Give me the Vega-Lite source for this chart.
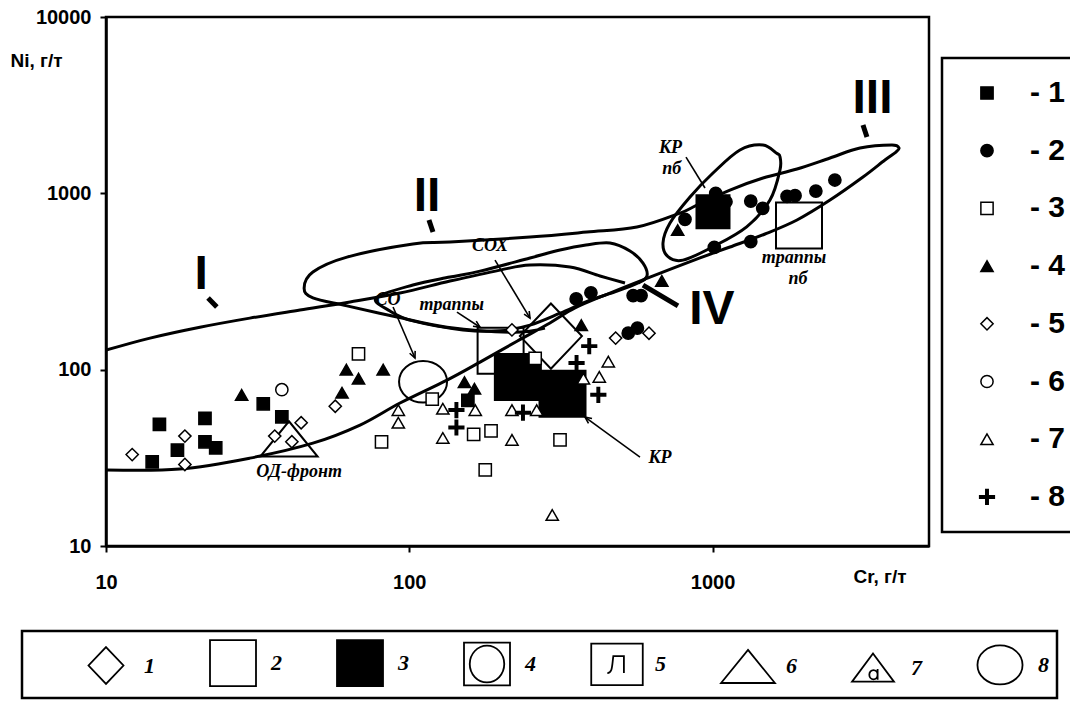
{
  "$schema": "https://vega.github.io/schema/vega-lite/v6.json",
  "width": 823,
  "height": 529,
  "autosize": {"type": "none"},
  "padding": {"left": 106, "top": 17, "right": 141, "bottom": 158},
  "background": "white",
  "config": {
    "view": {"stroke": "black", "strokeWidth": 2.5},
    "font": "Liberation Sans",
    "axis": {
      "grid": false,
      "domainColor": "black",
      "domainWidth": 2.5,
      "tickColor": "black",
      "tickWidth": 2,
      "tickSize": 6,
      "labelFont": "Liberation Sans",
      "labelFontWeight": "bold",
      "labelFontSize": 20,
      "labelColor": "black",
      "labelFlush": false,
      "labelOverlap": false,
      "titleFont": "Liberation Sans",
      "titleFontWeight": "bold",
      "titleFontSize": 19,
      "titleColor": "black"
    },
    "legend": {"strokeWidth": 2.5}
  },
  "datasets": {
    "pts": [
      {"series": "1", "Cr": 15, "Ni": 49}, {"series": "1", "Cr": 14.2, "Ni": 30}, {"series": "1", "Cr": 17.2, "Ni": 35},
      {"series": "1", "Cr": 21.2, "Ni": 53}, {"series": "1", "Cr": 21.2, "Ni": 39}, {"series": "1", "Cr": 23, "Ni": 36},
      {"series": "1", "Cr": 33, "Ni": 64}, {"series": "1", "Cr": 38, "Ni": 54}, {"series": "1", "Cr": 156, "Ni": 67},
      {"series": "2", "Cr": 355, "Ni": 252}, {"series": "2", "Cr": 397, "Ni": 273}, {"series": "2", "Cr": 547, "Ni": 263},
      {"series": "2", "Cr": 581, "Ni": 263}, {"series": "2", "Cr": 527, "Ni": 161}, {"series": "2", "Cr": 565, "Ni": 172},
      {"series": "2", "Cr": 1013, "Ni": 494}, {"series": "2", "Cr": 811, "Ni": 712}, {"series": "2", "Cr": 1024, "Ni": 1000},
      {"series": "2", "Cr": 1107, "Ni": 896}, {"series": "2", "Cr": 1336, "Ni": 904}, {"series": "2", "Cr": 1463, "Ni": 822},
      {"series": "2", "Cr": 1336, "Ni": 532}, {"series": "2", "Cr": 1760, "Ni": 960}, {"series": "2", "Cr": 1870, "Ni": 970},
      {"series": "2", "Cr": 2190, "Ni": 1030}, {"series": "2", "Cr": 2530, "Ni": 1190},
      {"series": "3", "Cr": 68, "Ni": 123}, {"series": "3", "Cr": 81, "Ni": 39}, {"series": "3", "Cr": 119, "Ni": 68},
      {"series": "3", "Cr": 163, "Ni": 43}, {"series": "3", "Cr": 186, "Ni": 45}, {"series": "3", "Cr": 314, "Ni": 40},
      {"series": "3", "Cr": 178, "Ni": 27}, {"series": "3", "Cr": 260, "Ni": 116},
      {"series": "4", "Cr": 28, "Ni": 72}, {"series": "4", "Cr": 62, "Ni": 100}, {"series": "4", "Cr": 68, "Ni": 89},
      {"series": "4", "Cr": 82, "Ni": 100}, {"series": "4", "Cr": 60, "Ni": 74}, {"series": "4", "Cr": 152, "Ni": 85},
      {"series": "4", "Cr": 164, "Ni": 78}, {"series": "4", "Cr": 369, "Ni": 179}, {"series": "4", "Cr": 680, "Ni": 319},
      {"series": "4", "Cr": 767, "Ni": 619},
      {"series": "5", "Cr": 12.2, "Ni": 33}, {"series": "5", "Cr": 18.2, "Ni": 42}, {"series": "5", "Cr": 18.2, "Ni": 29},
      {"series": "5", "Cr": 36, "Ni": 42}, {"series": "5", "Cr": 41, "Ni": 39}, {"series": "5", "Cr": 44, "Ni": 50},
      {"series": "5", "Cr": 57, "Ni": 62}, {"series": "5", "Cr": 479, "Ni": 151}, {"series": "5", "Cr": 617, "Ni": 161},
      {"series": "5", "Cr": 218, "Ni": 168},
      {"series": "6", "Cr": 38, "Ni": 77},
      {"series": "7", "Cr": 92, "Ni": 59}, {"series": "7", "Cr": 92, "Ni": 50}, {"series": "7", "Cr": 129, "Ni": 41},
      {"series": "7", "Cr": 129, "Ni": 60}, {"series": "7", "Cr": 165, "Ni": 59}, {"series": "7", "Cr": 218, "Ni": 59},
      {"series": "7", "Cr": 263, "Ni": 59}, {"series": "7", "Cr": 218, "Ni": 40}, {"series": "7", "Cr": 453, "Ni": 111},
      {"series": "7", "Cr": 423, "Ni": 91}, {"series": "7", "Cr": 375, "Ni": 89}, {"series": "7", "Cr": 296, "Ni": 15},
      {"series": "8", "Cr": 392, "Ni": 136}, {"series": "8", "Cr": 356, "Ni": 109}, {"series": "8", "Cr": 420, "Ni": 72},
      {"series": "8", "Cr": 143, "Ni": 59}, {"series": "8", "Cr": 143, "Ni": 47}, {"series": "8", "Cr": 237, "Ni": 57}
    ],
    "big": [
      {"type": "1", "name": "СОХ", "Cr": 293, "Ni": 155},
      {"type": "2", "name": "траппы", "Cr": 200, "Ni": 128},
      {"type": "2", "name": "траппы пб", "Cr": 1927, "Ni": 657},
      {"type": "3", "name": "КР", "Cr": 228, "Ni": 91},
      {"type": "3", "name": "КР", "Cr": 320, "Ni": 73},
      {"type": "3", "name": "КР пб", "Cr": 1003, "Ni": 787},
      {"type": "6", "name": "ОД-фронт", "Cr": 40.1, "Ni": 40.5},
      {"type": "8", "name": "СО", "Cr": 111, "Ni": 85.4}
    ],
    "openCurves": [
      {"curve": "long", "ord": 1, "Cr": 10, "Ni": 27.0}, {"curve": "long", "ord": 2, "Cr": 17.5, "Ni": 27.3},
      {"curve": "long", "ord": 3, "Cr": 29.8, "Ni": 31.5}, {"curve": "long", "ord": 4, "Cr": 48.1, "Ni": 38.3},
      {"curve": "long", "ord": 5, "Cr": 68.8, "Ni": 48.5}, {"curve": "long", "ord": 6, "Cr": 93.2, "Ni": 64.7},
      {"curve": "long", "ord": 7, "Cr": 133.2, "Ni": 87.3}, {"curve": "long", "ord": 8, "Cr": 171.1, "Ni": 110.4},
      {"curve": "long", "ord": 9, "Cr": 226.5, "Ni": 145}, {"curve": "long", "ord": 10, "Cr": 290.9, "Ni": 184},
      {"curve": "long", "ord": 11, "Cr": 351.8, "Ni": 224}, {"curve": "long", "ord": 12, "Cr": 458.9, "Ni": 272},
      {"curve": "long", "ord": 13, "Cr": 621.7, "Ni": 335}, {"curve": "long", "ord": 14, "Cr": 908.7, "Ni": 430},
      {"curve": "long", "ord": 15, "Cr": 1141, "Ni": 496}, {"curve": "long", "ord": 16, "Cr": 1489, "Ni": 588},
      {"curve": "long", "ord": 17, "Cr": 1898, "Ni": 706}, {"curve": "long", "ord": 18, "Cr": 2439, "Ni": 916},
      {"curve": "long", "ord": 19, "Cr": 3132, "Ni": 1237}, {"curve": "long", "ord": 20, "Cr": 3700, "Ni": 1545},
      {"curve": "long", "ord": 21, "Cr": 4023, "Ni": 1715}, {"curve": "long", "ord": 22, "Cr": 4117, "Ni": 1807},
      {"curve": "long", "ord": 23, "Cr": 3903, "Ni": 1879}, {"curve": "long", "ord": 24, "Cr": 3062, "Ni": 1807},
      {"curve": "long", "ord": 25, "Cr": 2439, "Ni": 1586}, {"curve": "long", "ord": 26, "Cr": 1898, "Ni": 1374},
      {"curve": "long", "ord": 27, "Cr": 1466, "Ni": 1221}, {"curve": "long", "ord": 28, "Cr": 1141, "Ni": 1044},
      {"curve": "long", "ord": 29, "Cr": 888, "Ni": 858}, {"curve": "long", "ord": 30, "Cr": 781, "Ni": 773},
      {"curve": "long", "ord": 31, "Cr": 563, "Ni": 644}, {"curve": "long", "ord": 32, "Cr": 385, "Ni": 603},
      {"curve": "long", "ord": 33, "Cr": 250, "Ni": 565}, {"curve": "long", "ord": 34, "Cr": 136.2, "Ni": 529},
      {"curve": "long", "ord": 35, "Cr": 102.8, "Ni": 516}, {"curve": "long", "ord": 36, "Cr": 62.3, "Ni": 435},
      {"curve": "long", "ord": 37, "Cr": 48.1, "Ni": 358}, {"curve": "long", "ord": 38, "Cr": 45.0, "Ni": 290},
      {"curve": "long", "ord": 39, "Cr": 48.1, "Ni": 255}, {"curve": "long", "ord": 40, "Cr": 62.3, "Ni": 230},
      {"curve": "long", "ord": 41, "Cr": 91.1, "Ni": 199}, {"curve": "long", "ord": 42, "Cr": 133.2, "Ni": 174},
      {"curve": "long", "ord": 43, "Cr": 219.8, "Ni": 163}, {"curve": "long", "ord": 44, "Cr": 280, "Ni": 172},
      {"curve": "Iup", "ord": 1, "Cr": 10, "Ni": 129}, {"curve": "Iup", "ord": 2, "Cr": 13.97, "Ni": 151},
      {"curve": "Iup", "ord": 3, "Cr": 20.4, "Ni": 174}, {"curve": "Iup", "ord": 4, "Cr": 29.8, "Ni": 196},
      {"curve": "Iup", "ord": 5, "Cr": 43.6, "Ni": 218}, {"curve": "Iup", "ord": 6, "Cr": 63.8, "Ni": 242},
      {"curve": "Iup", "ord": 7, "Cr": 93.2, "Ni": 272}, {"curve": "Iup", "ord": 8, "Cr": 136.2, "Ni": 318},
      {"curve": "Iup", "ord": 9, "Cr": 199.1, "Ni": 367}, {"curve": "Iup", "ord": 10, "Cr": 250, "Ni": 392},
      {"curve": "Iup", "ord": 11, "Cr": 338.7, "Ni": 382}, {"curve": "Iup", "ord": 12, "Cr": 425.4, "Ni": 340},
      {"curve": "Iup", "ord": 13, "Cr": 514.2, "Ni": 310}
    ],
    "closedCurves": [
      {"curve": "IV", "ord": 1, "Cr": 77.7, "Ni": 255}, {"curve": "IV", "ord": 2, "Cr": 102.8, "Ni": 302},
      {"curve": "IV", "ord": 3, "Cr": 136.2, "Ni": 335}, {"curve": "IV", "ord": 4, "Cr": 171.1, "Ni": 362},
      {"curve": "IV", "ord": 5, "Cr": 250, "Ni": 430}, {"curve": "IV", "ord": 6, "Cr": 314, "Ni": 477},
      {"curve": "IV", "ord": 7, "Cr": 382.4, "Ni": 509}, {"curve": "IV", "ord": 8, "Cr": 458.9, "Ni": 523},
      {"curve": "IV", "ord": 9, "Cr": 534.1, "Ni": 471}, {"curve": "IV", "ord": 10, "Cr": 589.5, "Ni": 402},
      {"curve": "IV", "ord": 11, "Cr": 607.7, "Ni": 340}, {"curve": "IV", "ord": 12, "Cr": 567.5, "Ni": 310},
      {"curve": "IV", "ord": 13, "Cr": 476.6, "Ni": 276}, {"curve": "IV", "ord": 14, "Cr": 394.2, "Ni": 248},
      {"curve": "IV", "ord": 15, "Cr": 314, "Ni": 209}, {"curve": "IV", "ord": 16, "Cr": 250, "Ni": 179},
      {"curve": "IV", "ord": 17, "Cr": 199.1, "Ni": 166}, {"curve": "IV", "ord": 18, "Cr": 150.3, "Ni": 168},
      {"curve": "IV", "ord": 19, "Cr": 102.8, "Ni": 189}, {"curve": "IV", "ord": 20, "Cr": 86.4, "Ni": 215},
      {"curve": "KRpb", "ord": 1, "Cr": 1627, "Ni": 1687}, {"curve": "KRpb", "ord": 2, "Cr": 1466, "Ni": 1879},
      {"curve": "KRpb", "ord": 3, "Cr": 1231, "Ni": 1761}, {"curve": "KRpb", "ord": 4, "Cr": 1003, "Ni": 1304},
      {"curve": "KRpb", "ord": 5, "Cr": 842.3, "Ni": 953}, {"curve": "KRpb", "ord": 6, "Cr": 723.7, "Ni": 679},
      {"curve": "KRpb", "ord": 7, "Cr": 686.2, "Ni": 523}, {"curve": "KRpb", "ord": 8, "Cr": 712.8, "Ni": 437},
      {"curve": "KRpb", "ord": 9, "Cr": 798.6, "Ni": 418}, {"curve": "KRpb", "ord": 10, "Cr": 1003, "Ni": 498},
      {"curve": "KRpb", "ord": 11, "Cr": 1295, "Ni": 646}, {"curve": "KRpb", "ord": 12, "Cr": 1546, "Ni": 916},
      {"curve": "KRpb", "ord": 13, "Cr": 1668, "Ni": 1356}, {"curve": "KRpb", "ord": 14, "Cr": 1668, "Ni": 1613}
    ],
    "leaders": [
      {"Cr": 88.4, "Ni": 226.5, "Cr2": 104.4, "Ni2": 116.4},
      {"Cr": 191.7, "Ni": 418, "Cr2": 250, "Ni2": 196},
      {"Cr": 143.6, "Ni": 212, "Cr2": 171.1, "Ni2": 174},
      {"Cr": 576.2, "Ni": 31.9, "Cr2": 379.6, "Ni2": 53.8},
      {"Cr": 817.2, "Ni": 1606, "Cr2": 943.9, "Ni2": 1072}
    ],
    "heads": [
      {"Cr": 104.4, "Ni": 116.4, "angle": 156.7},
      {"Cr": 250, "Ni": 196, "angle": 148.9},
      {"Cr": 171.1, "Ni": 174, "angle": 123.1},
      {"Cr": 379.6, "Ni": 53.8, "angle": -54}
    ],
    "fieldTicks": [
      {"field": "I", "Cr": 21.7, "Ni": 255, "Cr2": 23.2, "Ni2": 226.5},
      {"field": "II", "Cr": 116.1, "Ni": 706, "Cr2": 119.7, "Ni2": 603},
      {"field": "III", "Cr": 3132, "Ni": 2440, "Cr2": 3228, "Ni2": 2086},
      {"field": "IV", "Cr": 589.5, "Ni": 302, "Cr2": 768.9, "Ni2": 230}
    ],
    "notes": [
      {"label": "ОД-фронт", "Cr": 43.3, "Ni": 26.4},
      {"label": "СО", "Cr": 85.1, "Ni": 248},
      {"label": "СОХ", "Cr": 184.5, "Ni": 502},
      {"label": "траппы", "Cr": 138, "Ni": 232.5},
      {"label": "КР", "Cr": 670.7, "Ni": 31.5},
      {"label": "КР", "Cr": 726.3, "Ni": 1800},
      {"label": "пб", "Cr": 733, "Ni": 1380},
      {"label": "траппы", "Cr": 1855, "Ni": 430},
      {"label": "пб", "Cr": 1912, "Ni": 328}
    ],
    "numerals": [
      {"label": "I", "Cr": 20.6, "Ni": 344},
      {"label": "II", "Cr": 114.4, "Ni": 953},
      {"label": "III", "Cr": 3367, "Ni": 3427},
      {"label": "IV", "Cr": 995, "Ni": 218}
    ]
  },
  "encoding": {
    "x": {
      "field": "Cr",
      "type": "quantitative",
      "scale": {"type": "log", "domain": [10, 5170], "nice": false},
      "axis": {
        "values": [10, 100, 1000],
        "format": "d",
        "labelPadding": 20,
        "title": "Cr, г/т",
        "titleX": 747,
        "titleY": 30,
        "titleAlign": "left",
        "titleBaseline": "middle",
        "titleAnchor": null
      }
    },
    "y": {
      "field": "Ni",
      "type": "quantitative",
      "scale": {"type": "log", "domain": [10, 10000], "nice": false},
      "axis": {
        "values": [10, 100, 1000, 10000],
        "format": "d",
        "labelPadding": 9,
        "title": "Ni, г/т",
        "titleAngle": 0,
        "titleX": -96,
        "titleY": 43,
        "titleAlign": "left",
        "titleBaseline": "middle",
        "titleAnchor": null
      }
    }
  },
  "layer": [
    {
      "data": {"name": "openCurves"},
      "mark": {"type": "line", "interpolate": "cardinal", "stroke": "black", "strokeWidth": 3, "clip": true},
      "encoding": {
        "detail": {"field": "curve", "type": "nominal"},
        "order": {"field": "ord", "type": "quantitative"}
      }
    },
    {
      "data": {"name": "closedCurves"},
      "mark": {"type": "line", "interpolate": "cardinal-closed", "stroke": "black", "strokeWidth": 3, "clip": true},
      "encoding": {
        "detail": {"field": "curve", "type": "nominal"},
        "order": {"field": "ord", "type": "quantitative"}
      }
    },
    {
      "data": {"name": "leaders"},
      "mark": {"type": "rule", "stroke": "black", "strokeWidth": 1.6},
      "encoding": {
        "x2": {"field": "Cr2"},
        "y2": {"field": "Ni2"}
      }
    },
    {
      "data": {"name": "fieldTicks"},
      "mark": {"type": "rule", "stroke": "black", "strokeWidth": 5, "strokeCap": "butt"},
      "encoding": {
        "x2": {"field": "Cr2"},
        "y2": {"field": "Ni2"}
      }
    },
    {
      "data": {"name": "heads"},
      "mark": {"type": "point", "shape": "M-0.6,1.3L0,0L0.6,1.3", "filled": false, "stroke": "black", "strokeWidth": 1.6, "size": 100, "opacity": 1},
      "encoding": {
        "angle": {"field": "angle", "type": "quantitative", "scale": null}
      }
    },
    {
      "data": {"name": "big"},
      "encoding": {
        "shape": {
          "field": "type",
          "type": "nominal",
          "scale": {
            "domain": ["1", "2", "3", "4", "5", "6", "7", "8"],
            "range": [
              "M0,-0.8L0.76,0L0,0.8L-0.76,0Z",
              "M-1,-1H1V1H-1Z",
              "M-1,-1H1V1H-1Z",
              "M-1,-0.93H1V0.93H-1Z M0.75,0A0.75,0.8 0 1,1 -0.75,0A0.75,0.8 0 1,1 0.75,0Z",
              "M-1.12,-0.9H1.12V0.9H-1.12Z M-0.42,0.38C-0.2,0.38 -0.22,0.1 -0.16,-0.36H0.3V0.38",
              "M0,-0.72L1.17,0.72L-1.17,0.72Z",
              "M0,-0.62L0.91,0.6L-0.91,0.6Z M0.2,0.3A0.18,0.2 0 1,1 -0.16,0.3A0.18,0.2 0 1,1 0.2,0.3 M0.2,0.05V0.52",
              "M0.98,0A0.98,0.85 0 1,1 -0.98,0A0.98,0.85 0 1,1 0.98,0Z"
            ]
          },
          "legend": {
            "orient": "none",
            "legendX": -84,
            "legendY": 614,
            "direction": "horizontal",
            "columns": 8,
            "title": "\u00a0",
            "titleOrient": "left",
            "titlePadding": 52,
            "titleFontSize": 11,
            "padding": 8,
            "columnPadding": 51,
            "symbolSize": 2116,
            "symbolStrokeWidth": 1.8,
            "labelFont": "Liberation Serif",
            "labelFontStyle": "italic",
            "labelFontWeight": "bold",
            "labelFontSize": 22,
            "labelColor": "black",
            "labelOffset": 14,
            "strokeColor": "black"
          }
        },
        "fill": {
          "field": "type",
          "type": "nominal",
          "scale": {
            "domain": ["1", "2", "3", "4", "5", "6", "7", "8"],
            "range": ["transparent", "transparent", "black", "transparent", "transparent", "transparent", "transparent", "transparent"]
          }
        },
        "stroke": {
          "field": "type",
          "type": "nominal",
          "scale": {
            "domain": ["1", "2", "3", "4", "5", "6", "7", "8"],
            "range": ["black", "black", "black", "black", "black", "black", "black", "black"]
          }
        }
      },
      "layer": [
        {
          "transform": [{"filter": "datum.type == '1'"}],
          "mark": {"type": "point", "filled": true, "strokeWidth": 2, "opacity": 1, "size": 6660}
        },
        {
          "transform": [{"filter": "(datum.type == '2' || datum.type == '3') && datum.name != 'КР пб'"}],
          "mark": {"type": "point", "filled": true, "strokeWidth": 2, "opacity": 1, "size": 2116}
        },
        {
          "transform": [{"filter": "datum.name == 'КР пб'"}],
          "mark": {"type": "point", "filled": true, "strokeWidth": 2, "opacity": 1, "size": 1089}
        },
        {
          "transform": [{"filter": "datum.type == '6' || datum.type == '8'"}],
          "mark": {"type": "point", "filled": true, "strokeWidth": 2, "opacity": 1, "size": 2400}
        }
      ]
    },
    {
      "data": {"name": "pts"},
      "mark": {"type": "point", "filled": true, "strokeWidth": 1.5, "size": 150, "opacity": 1},
      "encoding": {
        "shape": {
          "field": "series",
          "type": "nominal",
          "scale": {
            "domain": ["1", "2", "3", "4", "5", "6", "7", "8"],
            "range": ["square", "circle", "square", "triangle-up", "diamond", "circle", "triangle-up",
              "M-1.2,-0.2H-0.2V-1.2H0.2V-0.2H1.2V0.2H0.2V1.2H-0.2V0.2H-1.2Z"]
          },
          "legend": {
            "orient": "none",
            "legendX": 836,
            "legendY": 41,
            "direction": "vertical",
            "title": null,
            "padding": 20,
            "symbolOffset": 10,
            "rowPadding": 27.7,
            "symbolSize": 150,
            "symbolStrokeWidth": 1.5,
            "labelExpr": "'- ' + datum.label",
            "labelFont": "Liberation Sans",
            "labelFontWeight": "bold",
            "labelFontSize": 30,
            "labelColor": "black",
            "labelOffset": 28,
            "strokeColor": "black"
          }
        },
        "fill": {
          "field": "series",
          "type": "nominal",
          "scale": {
            "domain": ["1", "2", "3", "4", "5", "6", "7", "8"],
            "range": ["black", "black", "white", "black", "white", "white", "white", "black"]
          }
        },
        "stroke": {
          "field": "series",
          "type": "nominal",
          "scale": {
            "domain": ["1", "2", "3", "4", "5", "6", "7", "8"],
            "range": ["black", "black", "black", "black", "black", "black", "black", "black"]
          }
        }
      }
    },
    {
      "data": {"name": "notes"},
      "mark": {"type": "text", "font": "Liberation Serif", "fontStyle": "italic", "fontWeight": "bold", "fontSize": 18, "align": "center", "baseline": "middle", "color": "black"},
      "encoding": {"text": {"field": "label"}}
    },
    {
      "data": {"name": "numerals"},
      "mark": {"type": "text", "font": "Liberation Sans", "fontWeight": "bold", "fontSize": 48, "align": "center", "baseline": "middle", "color": "black"},
      "encoding": {"text": {"field": "label"}}
    }
  ],
  "resolve": {"scale": {"shape": "independent", "fill": "independent", "stroke": "independent"}}
}
